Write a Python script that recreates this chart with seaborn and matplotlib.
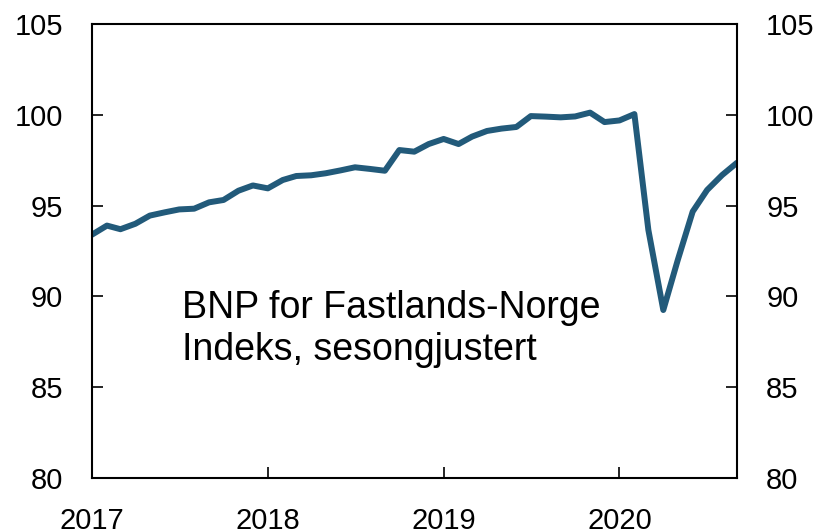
import pandas as pd
import seaborn as sns
import matplotlib.pyplot as plt
import matplotlib.dates as mdates

# BNP Fastlands-Norge, indeks, månedlig
maaneder = pd.date_range("2017-01-01", "2020-09-01", freq="MS")
indeks = [93.4, 93.9, 93.7, 94.0, 94.45, 94.63, 94.79, 94.83, 95.18, 95.31, 95.82, 96.11,
          95.95, 96.41, 96.63, 96.67, 96.78, 96.94, 97.11, 97.02, 96.92, 98.06, 97.97, 98.39,
          98.67, 98.39, 98.80, 99.11, 99.24, 99.33, 99.93, 99.90, 99.86, 99.91, 100.12, 99.6,
          99.69, 100.04, 93.66, 89.25, 92.0, 94.67, 95.86, 96.68, 97.36]
y_ticks = [80, 85, 90, 95, 100, 105]

df = pd.DataFrame({"dato": maaneder, "indeks": indeks})

sns.set_style("ticks")
plt.rcParams["font.family"] = ["Liberation Sans", "DejaVu Sans"]
plt.rcParams["text.color"] = "black"

fig = plt.figure(figsize=(8.23, 5.30), dpi=100)
ax = fig.add_axes([0.1118, 0.0981, 0.7837, 0.8566])

sns.lineplot(data=df, x="dato", y="indeks", ax=ax, color="#225a7a", linewidth=4.3)

ax.set_xlim(maaneder[0], maaneder[-1])
ax.set_ylim(80, 105)
ax.set_yticks(y_ticks)
ax.xaxis.set_major_locator(mdates.YearLocator())
ax.xaxis.set_major_formatter(mdates.DateFormatter("%Y"))
ax.set_xlabel("")
ax.set_ylabel("")

for s in ax.spines.values():
    s.set_visible(True)
    s.set_linewidth(1.5)
    s.set_color("black")

ax.tick_params(axis="both", direction="in", length=8, width=1.2, labelsize=21,
               colors="black", pad=21)
ax.tick_params(axis="y", left=True, right=True, labelleft=True, labelright=True)
ax.tick_params(axis="x", top=False, pad=21)

ax.text(0.1395, 0.414, "BNP for Fastlands-Norge\nIndeks, sesongjustert",
        transform=ax.transAxes, fontsize=27, ha="left", va="top", linespacing=1.2,
        color="black")

fig.savefig("out.png", dpi=100)
